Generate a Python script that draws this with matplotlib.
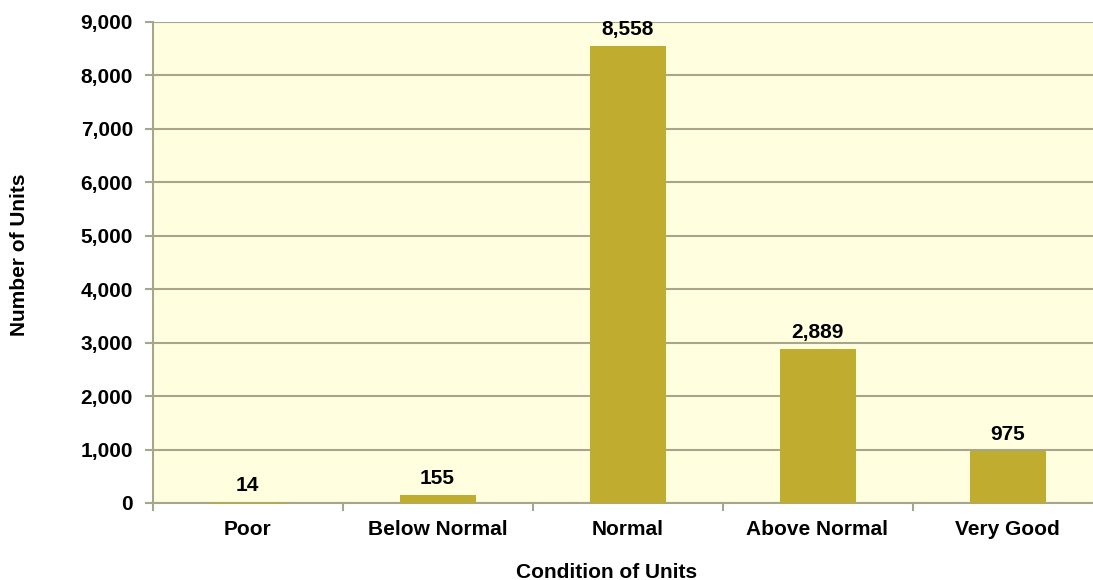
import matplotlib.pyplot as plt
from matplotlib.ticker import FuncFormatter, MultipleLocator

categories = ['Poor', 'Below Normal', 'Normal', 'Above Normal', 'Very Good']
units = [14, 155, 8558, 2889, 975]

plt.rcParams['font.family'] = ['Liberation Sans', 'DejaVu Sans']
plt.rcParams['font.weight'] = 'bold'

fig = plt.figure(figsize=(10.93, 5.80), dpi=100)
ax = fig.add_axes([152.5 / 1093, 1 - 503 / 580, 1 - 152.5 / 1093, 481 / 580])

axis_col = '#A6A68C'
ax.set_facecolor('#FFFFE0')
x = list(range(len(categories)))
ax.bar(x, units, width=0.4, color='#C0AD2F', zorder=3)

for xi, v in zip(x, units):
    ax.annotate(f'{v:,}', (xi, v), xytext=(0, 5), textcoords='offset points',
                ha='center', va='bottom', fontsize=15, fontweight='bold', zorder=4)

ax.set_ylim(0, 9000)
ax.yaxis.set_major_locator(MultipleLocator(1000))
ax.yaxis.set_major_formatter(FuncFormatter(lambda v, p: f'{int(v):,}'))
ax.grid(axis='y', color=axis_col, linewidth=1.5, zorder=0)

ax.set_xticks([i - 0.5 for i in range(len(categories) + 1)])
ax.set_xticklabels([])
ax.set_xticks(x, minor=True)
ax.set_xticklabels(categories, minor=True, fontsize=15, fontweight='bold')
ax.set_xlim(-0.5, 4.5 - 9.5 / 190)
ax.tick_params(axis='x', which='minor', length=0, pad=12)
ax.tick_params(axis='x', which='major', length=6, color=axis_col, width=1.5)
ax.tick_params(axis='y', length=6, color=axis_col, width=1.5, labelsize=15, pad=8)

for s in ['top', 'right']:
    ax.spines[s].set_visible(False)
for s in ['left', 'bottom']:
    ax.spines[s].set_color(axis_col)
    ax.spines[s].set_linewidth(1.5)

fig.text(20 / 1093, 1 - 255 / 580, 'Number of Units', rotation=90, ha='center', va='center',
         fontsize=15, fontweight='bold')
fig.text(607 / 1093, 1 - 572 / 580, 'Condition of Units', ha='center', va='center',
         fontsize=15, fontweight='bold')

fig.savefig('out.png', dpi=100)
